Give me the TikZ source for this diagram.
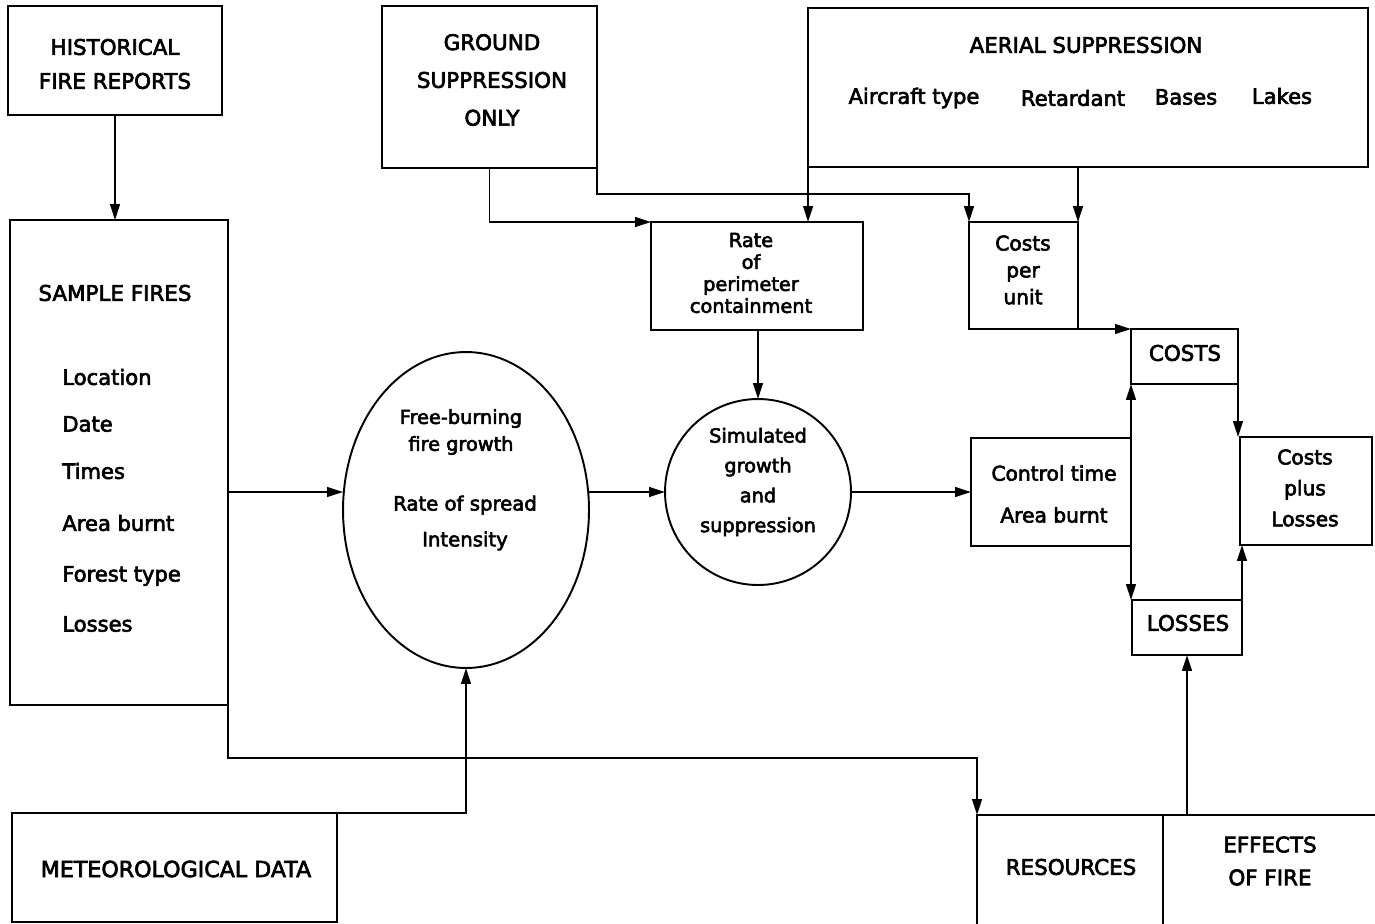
\documentclass[tikz,border=0pt]{standalone}
\usepackage{fontspec}
\setmainfont{DejaVu Sans}[FakeBold=3]
\usetikzlibrary{shapes.geometric,arrows.meta}
\newcommand{\capfs}[1]{\fontsize{12.2}{#1}\selectfont}
\newcommand{\lowfs}[1]{\fontsize{11.5}{#1}\selectfont}
\tikzset{
  box/.style={draw, line width=1.1pt, inner sep=0pt, outer sep=0pt},
  arr/.style={line width=1.1pt, -{Triangle[length=9pt,width=5.5pt]}},
  cap/.style={align=center, inner sep=0pt, font=\capfs{#1}},
  cap/.default=14,
  low/.style={align=center, inner sep=0pt, font=\lowfs{#1}},
  low/.default=14,
}
\begin{document}
\begin{tikzpicture}[x=0.02cm,y=-0.02cm]
\useasboundingbox (0,0) rectangle (1375,923);
\clip (0,0) rectangle (1375,923);
% boxes
\node[box, minimum width=4.28cm, minimum height=2.18cm] (hist) at (115,60.5) {};
\node[box, minimum width=4.36cm, minimum height=9.7cm] (sample) at (119,462.5) {};
\node[box, minimum width=4.3cm, minimum height=3.24cm] (ground) at (489.5,87) {};
\node[box, minimum width=11.2cm, minimum height=3.18cm] (aerial) at (1088,87.5) {};
\node[box, minimum width=4.24cm, minimum height=2.16cm] (rate) at (757,276) {};
\node[box, minimum width=2.18cm, minimum height=2.14cm] (cpu) at (1023.5,275.5) {};
\node[box, minimum width=2.14cm, minimum height=1.1cm] (costs) at (1184.5,356.5) {};
\node[box, minimum width=3.2cm, minimum height=2.16cm] (ctrl) at (1051,492) {};
\node[box, minimum width=2.64cm, minimum height=2.16cm] (cpl) at (1306,491) {};
\node[box, minimum width=2.2cm, minimum height=1.1cm] (losses) at (1187,627.5) {};
\node[box, minimum width=6.5cm, minimum height=2.18cm] (meteo) at (174.5,867.5) {};
\node[box, minimum width=3.72cm, minimum height=2.5cm] (res) at (1070,877.5) {};
\node[box, minimum width=4.54cm, minimum height=2.5cm] (eff) at (1276.5,877.5) {};
\node[draw, line width=1.1pt, ellipse, inner sep=0pt, outer sep=0pt, minimum width=4.92cm, minimum height=6.32cm] (ell) at (466,510) {};
\node[draw, line width=1.1pt, circle, inner sep=0pt, outer sep=0pt, minimum size=3.72cm] (circ) at (758,492) {};
% texts
\node[cap=19.3] (histt) at (115,64) {HISTORICAL\\FIRE REPORTS};
\node[cap=21.5] (groundt) at (492,80) {GROUND\\SUPPRESSION\\ONLY};
\node[cap] (aerialt) at (1086,45) {AERIAL SUPPRESSION};
\node[low, font=\fontsize{12}{14}\selectfont] (air) at (914,98) {Aircraft type};
\node[low, font=\fontsize{12}{14}\selectfont] (ret) at (1073,98) {Retardant};
\node[low, font=\fontsize{12}{14}\selectfont] (bas) at (1186,97) {Bases};
\node[low, font=\fontsize{12}{14}\selectfont] (lak) at (1282,96) {Lakes};
\node[low, font=\fontsize{11}{12.5}\selectfont] (ratet) at (751,273) {Rate\\of\\perimeter\\containment};
\node[low=15.3] (cput) at (1023,270) {Costs\\per\\unit};
\node[cap] (costst) at (1185,353) {COSTS};
\node[low=23.8] (ctrlt) at (1054,494) {Control time\\Area burnt};
\node[low=17.6] (cplt) at (1305,488) {Costs\\plus\\Losses};
\node[cap] (lossest) at (1188,623) {LOSSES};
\node[cap] (samplet) at (115,293) {SAMPLE FIRES};
\node[low, anchor=west, font=\fontsize{12}{14}\selectfont] (s1) at (62,377) {Location};
\node[low, anchor=west, font=\fontsize{12}{14}\selectfont] (s2) at (62,424) {Date};
\node[low, anchor=west, font=\fontsize{12}{14}\selectfont] (s3) at (62,471) {Times};
\node[low, anchor=west, font=\fontsize{12}{14}\selectfont] (s4) at (62,523) {Area burnt};
\node[low, anchor=west, font=\fontsize{12}{14}\selectfont] (s5) at (62,576) {Forest type};
\node[low, anchor=west, font=\fontsize{12}{14}\selectfont] (s6) at (62,624) {Losses};
\node[low, font=\fontsize{11}{15.3}\selectfont] (ellt1) at (461,432) {Free-burning\\fire growth};
\node[low, font=\fontsize{11.2}{20.4}\selectfont] (ellt2) at (465,523) {Rate of spread\\Intensity};
\node[low, font=\fontsize{11}{17}\selectfont] (circt) at (758,482) {Simulated\\growth\\and\\suppression};
\node[cap] (rest) at (1071,867) {RESOURCES};
\node[cap=18.7] (efft) at (1270,861) {EFFECTS\\OF FIRE};
\node[cap, font=\fontsize{12.6}{14}\selectfont] (meteot) at (176,869) {METEOROLOGICAL DATA};
% helper coordinates
\coordinate (busA) at (0,194);
\coordinate (busB) at (0,758);
% connectors
\draw[arr] (hist.south) -- (hist.south |- sample.north);
\draw[arr] (sample.east |- circ) -- (ell.west |- circ);
\draw[arr] (ell.east |- circ) -- (circ.west);
\draw[arr] (circ.east) -- (ctrl.west |- circ);
\draw[arr] (rate.south -| circ) -- (circ.north);
\draw[arr] (ground.south) |- (rate.north west);
\draw[arr] (ground.south east) -- (ground.south east |- busA) -| (cpu.north west);
\draw[arr] (aerial.south west) -- (aerial.south west |- rate.north);
\draw[arr] (aerial.south -| cpu.north east) -- (cpu.north east);
\draw[arr] (cpu.south east) -- (costs.north west);
\draw[arr] (ctrl.north east) -- (ctrl.north east |- costs.south);
\draw[arr] (ctrl.south east) -- (ctrl.south east |- losses.north);
\draw[arr] (costs.south east) -- (costs.south east |- cpl.north);
\draw[arr] (losses.north east) -- (losses.north east |- cpl.south);
\draw[arr] (losses.south |- eff.north) -- (losses.south);
\draw[arr] (sample.south east) -- (sample.south east |- busB) -| (res.north west);
\draw[arr] (meteo.north east) -| (ell.south);
\end{tikzpicture}
\end{document}
